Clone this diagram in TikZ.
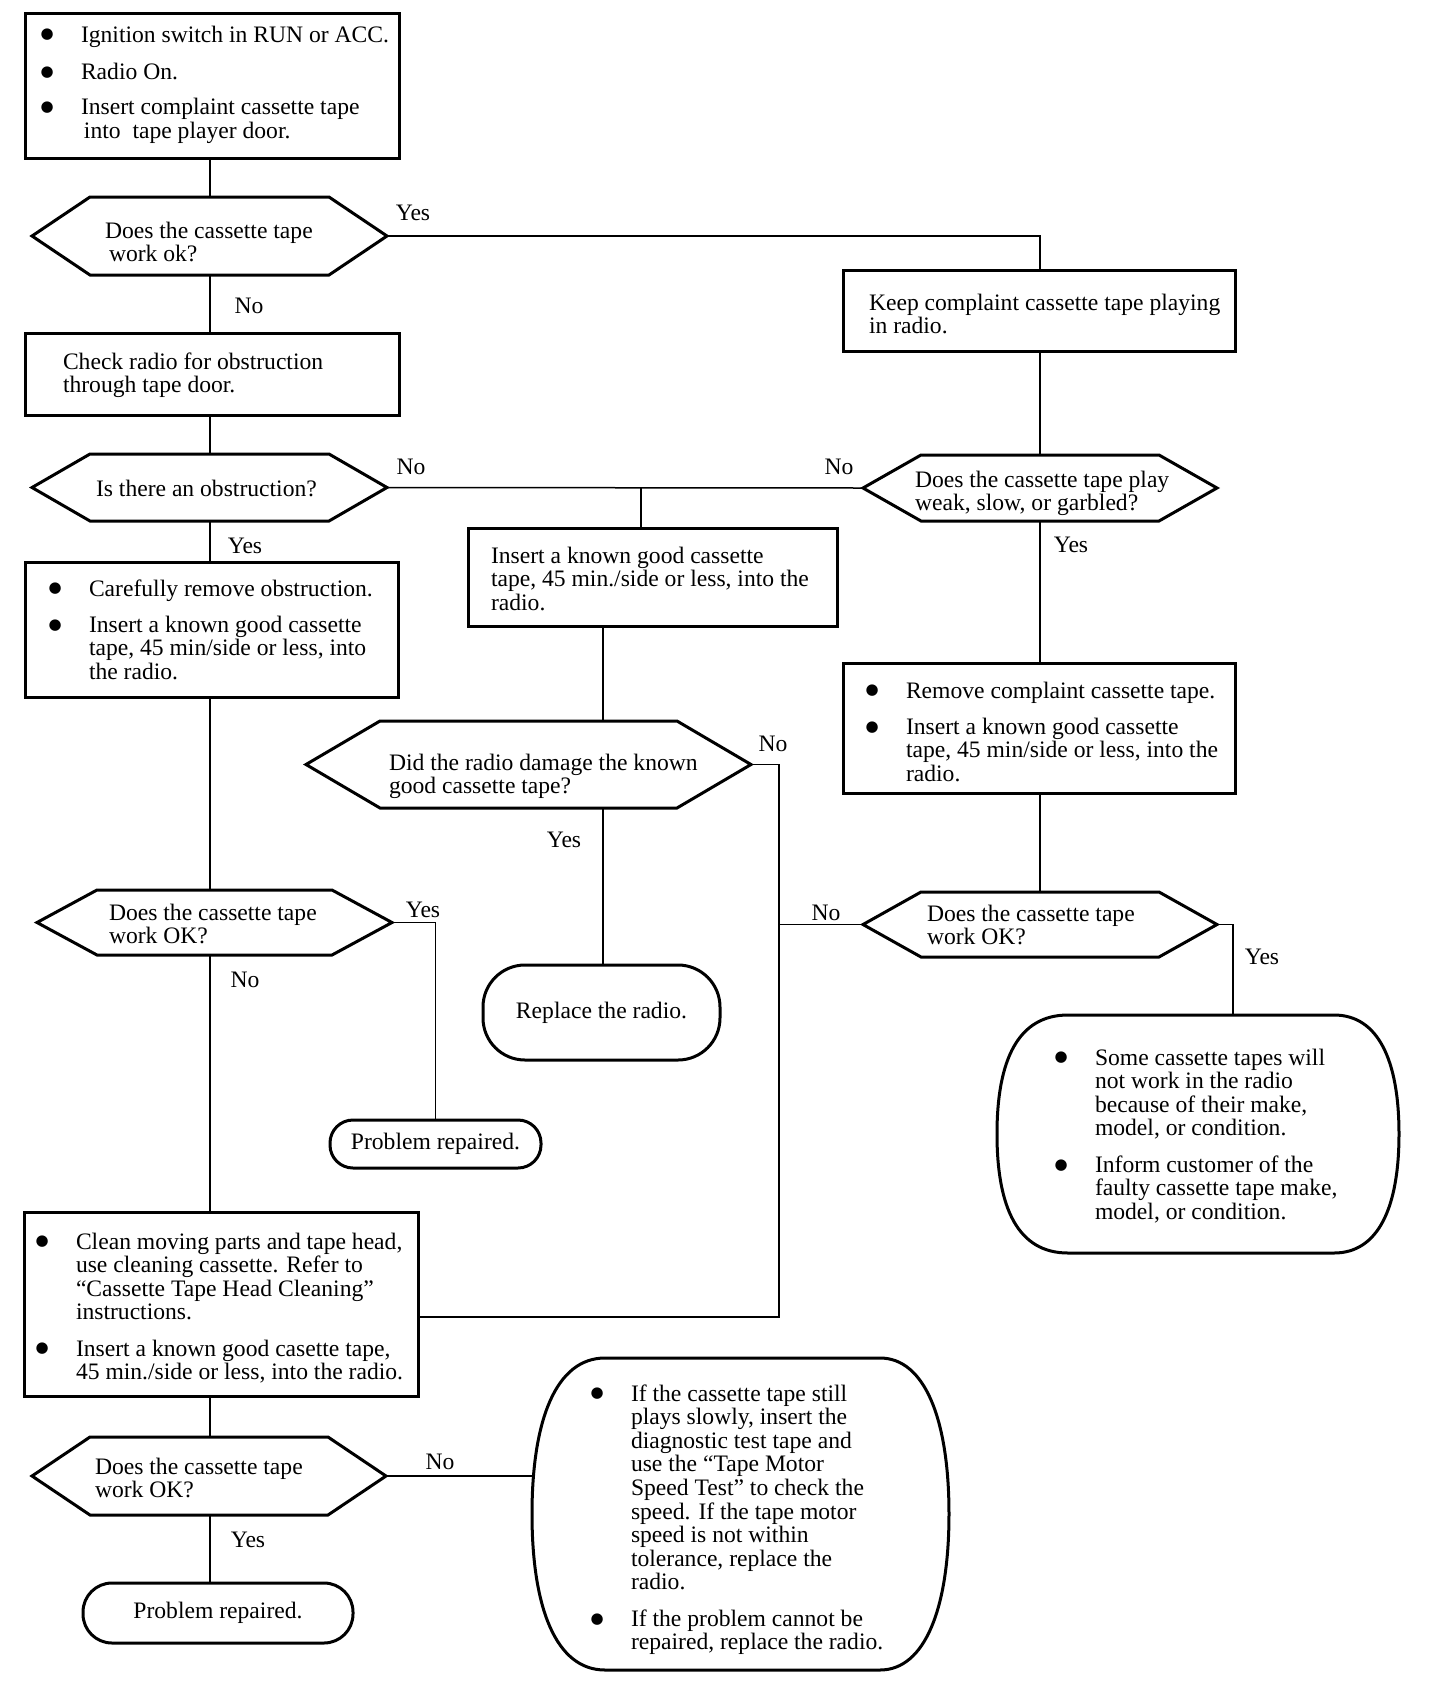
\documentclass[tikz,border=0pt]{standalone}
\usepackage{fontspec}
\setmainfont{Liberation Serif}
\newfontfamily\bulfont{DejaVu Sans}
\usetikzlibrary{calc}
\newcommand\txtfont{\fontsize{11.8pt}{11.8pt}\selectfont}
\newcommand\bul{\llap{\raisebox{1.6pt}{\bulfont\fontsize{7.5pt}{7.5pt}\selectfont ●}\hspace{13.6pt}}}
\newcommand\gp{6.3pt}
\newcommand\blk[1]{\begin{tabular}[t]{@{}l@{}}#1\end{tabular}}
\newcommand\boxnode[7][]{%
  \pgfmathsetlengthmacro\mybw{(#5-#3)*0.5}%
  \pgfmathsetlengthmacro\mybh{(#6-#4)*0.5}%
  \node[#1, minimum width=\mybw, minimum height=\mybh] (#2) at ({(#3+#5)/2},{(#4+#6)/2}) {#7};}
\newcommand\hexnode[6]{%
  \boxnode[hexbody]{#1}{#2}{#3}{#4}{#5}{}%
  \draw[shapeline] (#1.west) -- ([xshift=#6*0.5pt]#1.north west) -- ([xshift=-#6*0.5pt]#1.north east) -- (#1.east) -- ([xshift=-#6*0.5pt]#1.south east) -- ([xshift=#6*0.5pt]#1.south west) -- cycle;}
\tikzset{
  shapeline/.style={line width=1.5pt, line join=miter},
  box/.style={draw, shapeline, inner sep=0pt, outer sep=0pt},
  hexbody/.style={draw=none, inner sep=0pt, outer sep=0pt},
  stad/.style={draw, shapeline, inner sep=0pt, outer sep=0pt, font=\txtfont},
  conn/.style={line width=0.75pt},
  txt/.style={inner sep=0pt, outer sep=0pt, anchor=base west, font=\txtfont},
  lbl/.style={inner sep=0pt, font=\txtfont},
}
\begin{document}
\begin{tikzpicture}[x=0.5pt, y=-0.5pt]
\fill[white] (0,0) rectangle (1440,1688);
\useasboundingbox (0,0) rectangle (1440,1688);

% column coordinates
\coordinate (lc) at (210,0);
\coordinate (rc) at (1040,0);
\coordinate (mc) at (603,0);
\coordinate (jc) at (641,0);
\coordinate (rbc) at (1233,0);
\coordinate (jv) at (779,1317);

% rectangles
\boxnode[box]{b1}{25}{13}{399}{158}{}
\boxnode[box]{b2}{25}{333}{399}{415}{}
\boxnode[box]{b3}{25}{562}{398}{697}{}
\boxnode[box]{b4}{24}{1212}{418}{1396}{}
\boxnode[box]{b5}{468}{528}{837}{626}{}
\boxnode[box]{b6}{843}{270}{1235}{351}{}
\boxnode[box]{b7}{843}{663}{1235}{793}{}

% decisions
\hexnode{d1}{32}{197}{387}{275}{58}
\hexnode{d2}{32}{454}{387}{521}{58}
\hexnode{d3}{863}{455}{1217}{521}{58}
\hexnode{d4}{37}{890}{392}{955}{60}
\hexnode{d5}{306}{721}{751}{808}{74}
\hexnode{d6}{32}{1437}{386}{1515}{58}
\hexnode{d7}{863}{892}{1217}{957}{58}

% terminals
\boxnode[stad, rounded corners=21pt]{rr}{483}{965}{720}{1060}{Replace the radio.}
\boxnode[stad, rounded corners=11.5pt]{p1}{330}{1120}{541}{1168}{Problem repaired.}
\boxnode[stad, rounded corners=14.5pt]{p2}{83}{1583}{353}{1643}{Problem repaired.}

% barrels
\boxnode[hexbody]{rb}{997}{1015}{1399}{1253}{}
\draw[shapeline] (1068,1015) -- (1334,1015) .. controls (1378,1015) and (1399,1060) .. (1399,1134) .. controls (1399,1208) and (1378,1253) .. (1334,1253) -- (1068,1253) .. controls (1018,1253) and (997,1208) .. (997,1134) .. controls (997,1060) and (1018,1015) .. (1068,1015) -- cycle;
\boxnode[hexbody]{bb}{532}{1358}{949}{1670}{}
\draw[shapeline] (605,1358) -- (880,1358) .. controls (925,1358) and (949,1420) .. (949,1514) .. controls (949,1608) and (925,1670) .. (880,1670) -- (605,1670) .. controls (556,1670) and (532,1608) .. (532,1514) .. controls (532,1420) and (556,1358) .. (605,1358) -- cycle;

% texts
\node[txt] (t1) at (81,42) {\blk{\bul Ignition switch in RUN or ACC.\\[6.8pt]\bul Radio On.\\[6pt]\bul Insert complaint cassette tape\\\hspace{1.5pt}into\ \ tape player door.}};
\node[txt] (td1) at (105,238) {\blk{Does the cassette tape\\\hspace{2pt}work ok?}};
\node[txt] (t2) at (63,369) {\blk{Check radio for obstruction\\through tape door.}};
\node[txt] (td2) at (96,496) {\blk{Is there an obstruction?}};
\node[txt] (t3) at (89,596) {\blk{\bul Carefully remove obstruction.\\[\gp]\bul Insert a known good cassette\\tape, 45 min/side or less, into\\the radio.}};
\node[txt] (t5) at (491,563) {\blk{Insert a known good cassette\\tape, 45 min./side or less, into the\\radio.}};
\node[txt] (td5) at (389,770) {\blk{Did the radio damage the known\\good cassette tape?}};
\node[txt] (t6) at (869,310) {\blk{Keep complaint cassette tape playing\\in radio.}};
\node[txt] (td3) at (915,487) {\blk{Does the cassette tape play\\weak, slow, or garbled?}};
\node[txt] (t7) at (906,698) {\blk{\bul Remove complaint cassette tape.\\[\gp]\bul Insert a known good cassette\\tape, 45 min/side or less, into the\\radio.}};
\node[txt] (td7) at (927,921) {\blk{Does the cassette tape\\work OK?}};
\node[txt] (trb) at (1095,1065) {\blk{\bul Some cassette tapes will\\not work in the radio\\because of their make,\\model, or condition.\\[\gp]\bul Inform customer of the\\faulty cassette tape make,\\model, or condition.}};
\node[txt] (td4) at (109,920) {\blk{Does the cassette tape\\work OK?}};
\node[txt] (t4) at (76,1249) {\blk{\bul Clean moving parts and tape head,\\use cleaning cassette. Refer to\\“Cassette Tape Head Cleaning”\\instructions.\\[\gp]\bul Insert a known good casette tape,\\45 min./side or less, into the radio.}};
\node[txt] (td6) at (95,1474) {\blk{Does the cassette tape\\work OK?}};
\node[txt] (tbb) at (631,1401) {\blk{\bul If the cassette tape still\\plays slowly, insert the\\diagnostic test tape and\\use the “Tape Motor\\Speed Test” to check the\\speed. If the tape motor\\speed is not within\\tolerance, replace the\\radio.\\[\gp]\bul If the problem cannot be\\repaired, replace the radio.}};

% connectors
\draw[conn] (b1.south -| lc) -- (d1.north -| lc);
\draw[conn] (d1.east) -| (b6.north -| rc);
\draw[conn] (d1.south -| lc) -- (b2.north -| lc);
\draw[conn] (b2.south -| lc) -- (d2.north -| lc);
\draw[conn] (d2.east) -- (d3.west);
\draw[conn] (d2.east -| jc) -- (b5.north -| jc);
\draw[conn] (d2.south -| lc) -- (b3.north -| lc);
\draw[conn] (b3.south -| lc) -- (d4.north -| lc);
\draw[conn] (d4.east) -| (p1.north);
\draw[conn] (d4.south -| lc) -- (b4.north -| lc);
\draw[conn] (b4.south -| lc) -- (d6.north -| lc);
\draw[conn] (d6.east) -- (d6.east -| bb.west);
\draw[conn] (d6.south -| lc) -- (p2.north -| lc);
\draw[conn] (b5.south -| mc) -- (d5.north -| mc);
\draw[conn] (d5.south -| mc) -- (rr.north -| mc);
\draw[conn] (d5.east) -| (jv) -- (jv -| b4.east);
\draw[conn] (d7.west) -- (d7.west -| jv);
\draw[conn] (b6.south -| rc) -- (d3.north -| rc);
\draw[conn] (d3.south -| rc) -- (b7.north -| rc);
\draw[conn] (b7.south -| rc) -- (d7.north -| rc);
\draw[conn] (d7.east) -| (rb.north -| rbc);

% labels
\node[lbl] (l1) at (413,213) {Yes};
\node[lbl] (l2) at (249,306) {No};
\node[lbl] (l3) at (411,467) {No};
\node[lbl] (l4) at (245,546) {Yes};
\node[lbl] (l5) at (839,467) {No};
\node[lbl] (l6) at (1071,545) {Yes};
\node[lbl] (l7) at (773,744) {No};
\node[lbl] (l8) at (564,840) {Yes};
\node[lbl] (l9) at (826,913) {No};
\node[lbl] (l10) at (1262,957) {Yes};
\node[lbl] (l11) at (423,910) {Yes};
\node[lbl] (l12) at (245,980) {No};
\node[lbl] (l13) at (440,1462) {No};
\node[lbl] (l14) at (248,1540) {Yes};
\end{tikzpicture}
\end{document}
